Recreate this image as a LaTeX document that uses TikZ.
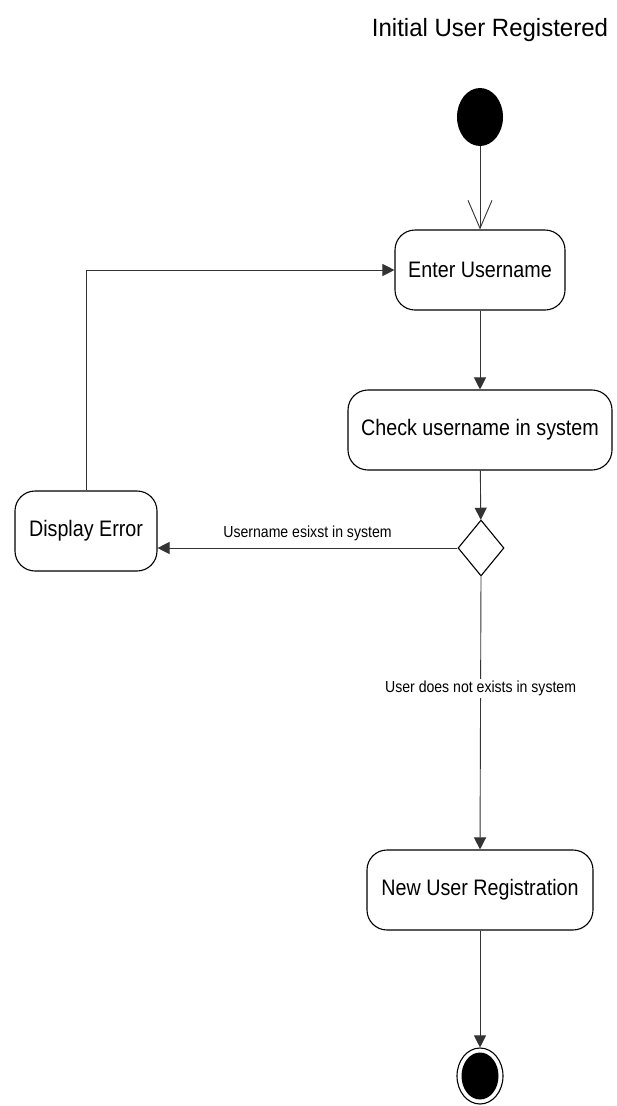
\documentclass[tikz,border=0pt]{standalone}
\usepackage{fontspec}
\setmainfont{Liberation Sans}
\usetikzlibrary{arrows.meta,shapes.geometric}

\newcommand{\slim}[1]{\scalebox{0.88}[1]{#1}}

\tikzstyle{activity} = [draw,line width=1.1pt,rounded corners=20pt,minimum height=80pt,inner sep=0pt,font=\fontsize{22.4}{26}\selectfont]
\tikzstyle{guard} = [font=\fontsize{16}{19}\selectfont,inner sep=2pt]
\tikzstyle{flow} = [line width=0.9pt,draw=black!80,-{Triangle[length=12pt,width=12pt]}]

\begin{document}
\begin{tikzpicture}[x=1pt,y=-1pt]
	\useasboundingbox (0,0) rectangle (616,1106);
	\node[font=\fontsize{25}{29}\selectfont] (title) at (490,30) {\scalebox{0.96}[1]{Initial User Registered}};
	\node[ellipse,fill=black,minimum width=46pt,minimum height=58pt,inner sep=0pt] (start) at (480,117) {};
	\node[activity,minimum width=170pt] (enter) at (480,270) {\slim{Enter Username}};
	\node[activity,minimum width=264pt] (check) at (480,430) {\slim{Check username in system}};
	\node[diamond,draw,line width=1.1pt,minimum width=46pt,minimum height=56pt,inner sep=0pt] (dec) at (481,548) {};
	\node[activity,minimum width=142pt] (err) at (86,531) {\slim{Display Error}};
	\node[activity,minimum width=226pt] (newuser) at (480,890) {\slim{New User Registration}};
	\node[ellipse,draw,line width=1.1pt,minimum width=46pt,minimum height=56pt,inner sep=0pt] (final) at (480,1076) {};
	\node[ellipse,fill=black,minimum width=37pt,minimum height=47pt,inner sep=0pt] (finaldot) at (final) {};
	
	\draw[line width=0.9pt,draw=black!80,-{Straight Barb[length=28pt,width=24pt,line width=0.9pt]}] (start) -- (enter);
	\draw[flow] (enter) -- (check);
	\draw[flow] (check) -- (dec);
	\draw[flow] (dec.west) -- node[guard,above=5pt] {\slim{Username esixst in system}} (err.east |- dec.west);
	\draw[flow] (err.north) |- (enter.west);
	\draw[flow] (dec.south) -- node[guard,fill=white,pos=0.41] {\slim{User does not exists in system}} (newuser.north);
	\draw[flow] (newuser) -- (final.north);
\end{tikzpicture}
\end{document}
